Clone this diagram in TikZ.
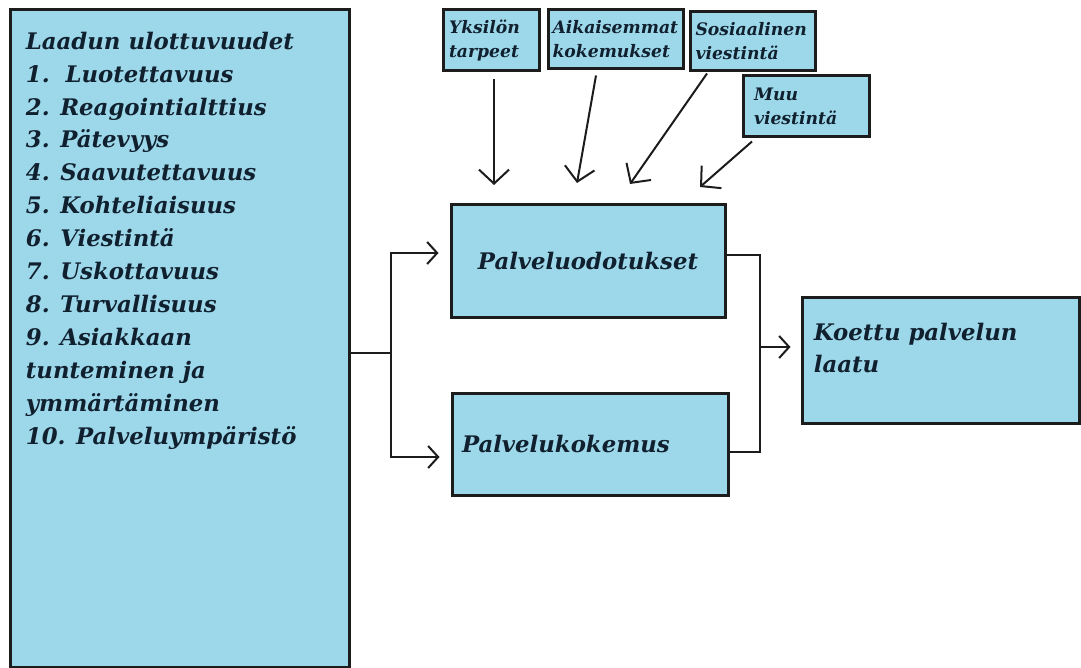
\documentclass[tikz,border=0pt]{standalone}
\usepackage{fontspec}
\setmainfont{DejaVu Serif}
\usetikzlibrary{arrows.meta}

\definecolor{boxblue}{HTML}{9DD8EA}
\definecolor{ink}{HTML}{10202E}
\definecolor{edge}{HTML}{1C1C1C}

\tikzstyle{box} = [rectangle, draw=edge, line width=1.5pt, fill=boxblue, text=ink, font=\bfseries\itshape\fontsize{11.4}{16.45}\selectfont]
\tikzstyle{cue} = [box, align=left, inner ysep=0pt, font=\bfseries\itshape\fontsize{8.6}{12}\selectfont]
\tikzstyle{line} = [line width=1pt, draw=edge]
\tikzstyle{arrow} = [line, -{Straight Barb[length=5pt,width=11pt]}]
\tikzstyle{bigarrow} = [line, -{Straight Barb[length=7pt,width=15pt]}]

\begin{document}
\begin{tikzpicture}[x=0.5pt, y=-0.5pt]
    \useasboundingbox (0,0) rectangle (1081,668);

    % Nodes
    \node (dims) [box, minimum width=169.5pt, minimum height=328.5pt] at (179.5,338.5) {};
    \node (dimslist) [anchor=north west, inner sep=0pt, align=left, text=ink, font=\bfseries\itshape\fontsize{11.4}{16.45}\selectfont] at ([xshift=8.5pt, yshift=-11.5pt]dims.north west)
        {Laadun ulottuvuudet\\
         1.\ \ Luotettavuus\\
         2. Reagointialttius\\
         3. Pätevyys\\
         4. Saavutettavuus\\
         5. Kohteliaisuus\\
         6. Viestintä\\
         7. Uskottavuus\\
         8. Turvallisuus\\
         9. Asiakkaan\\
         tunteminen ja\\
         ymmärtäminen\\
         10. Palveluympäristö};

    \node (yksilon) [cue, text width=42pt, inner xsep=3pt, minimum height=30.5pt] at (491,40.5) {Yksilön\\tarpeet};
    \node (aikaisemmat) [cue, text width=63pt, inner xsep=2.25pt, minimum height=29.5pt] at (615.5,39.5) {Aikaisemmat\\kokemukset};
    \node (sosiaalinen) [cue, text width=57pt, inner xsep=2.75pt, minimum height=29.5pt] at (752.5,41.5) {Sosiaalinen\\viestintä};
    \node (muu) [cue, text width=52pt, inner xsep=5.5pt, minimum height=30.5pt] at (806,106.5) {Muu\\viestintä};

    \node (odotukset) [box, minimum width=137pt, minimum height=56pt] at (588,261) {Palveluodotukset};
    \node (kokemus) [box, align=left, text width=128pt, inner xsep=5pt, minimum height=51pt] at (590,444) {Palvelukokemus};
    \node (koettu) [box, minimum width=138.5pt, minimum height=63pt] at (940.5,360) {};
    \node (koettutext) [anchor=west, inner sep=0pt, align=left, text=ink, font=\bfseries\itshape\fontsize{11.4}{16.45}\selectfont] at ([xshift=6.5pt, yshift=6pt]koettu.west) {Koettu palvelun\\laatu};

    \coordinate (split) at (391,353);
    \coordinate (merge) at (760,347);
    \coordinate (t1) at (494,185);
    \coordinate (t2) at (577,183);
    \coordinate (t3) at (630,184);
    \coordinate (t4) at (700,187);

    % Arrows
    \draw [bigarrow] ([xshift=1.5pt, yshift=-3.5pt]yksilon.south) -- (t1);
    \draw [bigarrow] ([xshift=-9.75pt, yshift=-2.5pt]aikaisemmat.south) -- (t2);
    \draw [bigarrow] ([xshift=-22.75pt, yshift=-0.5pt]sosiaalinen.south) -- (t3);
    \draw [bigarrow] ([xshift=-27pt, yshift=-1.5pt]muu.south) -- (t4);

    \draw [line] (dims.east |- split) -- (split);
    \draw [arrow] (split) |- ([xshift=-5.5pt, yshift=4pt]odotukset.west);
    \draw [arrow] (split) |- ([xshift=-5.5pt, yshift=-6.5pt]kokemus.west);

    \draw [line] ([yshift=3pt]odotukset.east) -| (merge);
    \draw [line] ([yshift=-4pt]kokemus.east) -| (merge);
    \draw [arrow] (merge) -- ([xshift=-5pt]koettu.west |- merge);

\end{tikzpicture}
\end{document}
